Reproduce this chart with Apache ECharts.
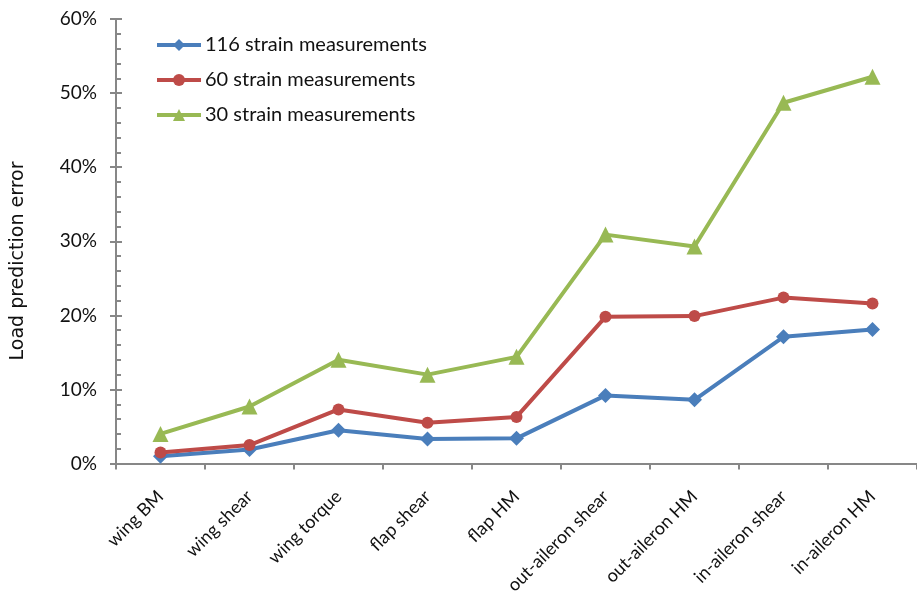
<!DOCTYPE html>
<html>
<head>
<meta charset="utf-8">
<script src="https://cdn.jsdelivr.net/npm/echarts@6/dist/echarts.min.js"></script>
<style>
  html, body { margin: 0; padding: 0; background: #fff; }
  #chart { width: 917px; height: 597px; }
</style>
</head>
<body>
<div id="chart"></div>
<script>
// Load components
const categories = ['wing BM', 'wing shear', 'wing torque', 'flap shear', 'flap HM',
  'out-aileron shear', 'out-aileron HM', 'in-aileron shear', 'in-aileron HM'];

// Load prediction error (%) per strain-gauge set
const strain116 = [1.0, 1.9, 4.5, 3.3, 3.4, 9.2, 8.6, 17.1, 18.1];
const strain60  = [1.5, 2.5, 7.3, 5.5, 6.3, 19.8, 19.9, 22.4, 21.6];
const strain30  = [4.0, 7.7, 14.0, 12.0, 14.4, 30.9, 29.3, 48.7, 52.2];

const seriesNames = ['116 strain measurements', '60 strain measurements', '30 strain measurements'];
const yTicks = [0, 10, 20, 30, 40, 50, 60];

const FONT = 'Lato, "Open Sans", sans-serif';
const AXIS = '#878787';
const TEXT = '#111';

const chart = echarts.init(document.getElementById('chart'), null, { renderer: 'canvas' });

function lineSeries(name, data, color, symbol, size) {
  return {
    name, type: 'line', data,
    symbol, symbolSize: size,
    lineStyle: { color, width: 4 },
    itemStyle: { color },
    animation: false
  };
}

const yMin = yTicks[0];
const yMax = yTicks[yTicks.length - 1];

chart.setOption({
  backgroundColor: '#fff',
  animation: false,
  grid: { left: 116, top: 19, width: 810, height: 447, containLabel: false },
  legend: {
    orient: 'vertical',
    left: 155,
    top: 35,
    padding: 0,
    itemWidth: 44,
    itemHeight: 15,
    itemGap: 15,
    lineStyle: { width: 4 },
    textStyle: { fontFamily: FONT, fontSize: 20, color: TEXT, padding: [0, 0, 0, -1] },
    data: seriesNames
  },
  xAxis: {
    type: 'category',
    data: categories,
    boundaryGap: true,
    axisLine: { lineStyle: { color: AXIS, width: 2 } },
    axisTick: { show: true, length: 6, lineStyle: { color: AXIS, width: 2 } },
    axisLabel: {
      rotate: 45, margin: 30, interval: 0,
      fontFamily: FONT, fontSize: 18, color: TEXT
    }
  },
  yAxis: [
    {
      type: 'value',
      min: yMin, max: yMax, interval: 10,
      splitLine: { show: false },
      axisLine: { show: true, lineStyle: { color: AXIS, width: 2 } },
      axisTick: { show: true, length: 6, lineStyle: { color: AXIS, width: 2 } },
      minorTick: { show: true, splitNumber: 5, length: -5, lineStyle: { color: AXIS, width: 2 } },
      axisLabel: {
        margin: 19, fontFamily: FONT, fontSize: 19, color: TEXT,
        formatter: v => v + '%'
      }
    },
    {
      // inner half of the crossing major ticks
      type: 'value',
      position: 'left',
      min: yMin, max: yMax, interval: 10,
      splitLine: { show: false },
      axisLine: { show: false },
      axisLabel: { show: false },
      axisTick: { show: true, inside: true, length: 6, lineStyle: { color: AXIS, width: 2 } }
    }
  ],
  graphic: [
    {
      type: 'text',
      x: 18, y: 261,
      rotation: Math.PI / 2,
      style: {
        text: 'Load prediction error',
        fontFamily: '"DejaVu Sans", sans-serif',
        fontSize: 19, fill: TEXT,
        align: 'center', verticalAlign: 'middle'
      }
    }
  ],
  series: [
    lineSeries(seriesNames[0], strain116, '#4A7EBB', 'diamond', 15),
    lineSeries(seriesNames[1], strain60, '#BE4B48', 'circle', 12),
    lineSeries(seriesNames[2], strain30, '#98B954', 'triangle', 16)
  ]
});
</script>
</body>
</html>
